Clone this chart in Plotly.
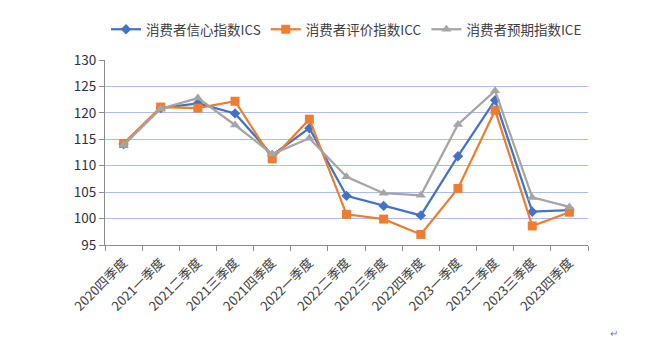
import plotly.graph_objects as go

categories = ["2020四季度", "2021一季度", "2021二季度", "2021三季度", "2021四季度",
              "2022一季度", "2022二季度", "2022三季度", "2022四季度",
              "2023一季度", "2023二季度", "2023三季度", "2023四季度"]
ics = [114.1, 120.9, 121.8, 119.9, 112.0, 117.1, 104.3, 102.4, 100.6, 111.8, 122.4, 101.3, 101.6]
icc = [114.2, 121.1, 120.9, 122.2, 111.3, 118.8, 100.8, 99.9, 97.0, 105.7, 120.5, 98.6, 101.2]
ice = [113.9, 120.8, 122.8, 117.7, 112.2, 115.2, 107.9, 104.8, 104.4, 117.8, 124.2, 104.0, 102.2]
series_names = ["消费者信心指数ICS", "消费者评价指数ICC", "消费者预期指数ICE"]
y_ticks = [95, 100, 105, 110, 115, 120, 125, 130]

FONT = "Noto Sans CJK SC, Microsoft YaHei, sans-serif"

fig = go.Figure()
fig.add_trace(go.Scatter(x=categories, y=ics, name=series_names[0], mode="lines+markers",
                         line=dict(color="#4472C4", width=2.25),
                         marker=dict(symbol="diamond", size=8, color="#4472C4")))
fig.add_trace(go.Scatter(x=categories, y=icc, name=series_names[1], mode="lines+markers",
                         line=dict(color="#ED7D31", width=2.25),
                         marker=dict(symbol="square", size=9, color="#ED7D31")))
fig.add_trace(go.Scatter(x=categories, y=ice, name=series_names[2], mode="lines+markers",
                         line=dict(color="#A5A5A5", width=2.25),
                         marker=dict(symbol="triangle-up", size=9, color="#A5A5A5")))

fig.update_layout(
    width=667, height=348,
    margin=dict(l=105, r=79, t=60, b=103),
    paper_bgcolor="white", plot_bgcolor="white",
    font=dict(family=FONT, size=12, color="#404040"),
    showlegend=True,
    legend=dict(orientation="h", x=0.5, xanchor="center", y=1.165, yanchor="middle",
                font=dict(size=13.5, color="#404040"), itemwidth=30, tracegroupgap=0),
    xaxis=dict(type="category", tickangle=-45, showgrid=False, showline=True,
               linecolor="#8C8C8C", linewidth=1, ticks="outside", ticklen=5,
               tickcolor="#8C8C8C", tickson="boundaries", ticklabelstandoff=4,
               tickfont=dict(size=13, color="#404040"), range=[-0.5, 12.5]),
    yaxis=dict(range=[95, 130], tickvals=y_ticks, showgrid=True, gridcolor="#A9BDF0",
               gridwidth=1, showline=True, linecolor="#8C8C8C", linewidth=1,
               ticks="outside", ticklen=5, tickcolor="#8C8C8C",
               tickfont=dict(size=13.5, color="#303040"), zeroline=False),
)
fig.add_annotation(text="↵", xref="paper", yref="paper", showarrow=False,
                   x=(620 - 105) / (667 - 105 - 79), y=(245 - 342) / (245 - 60),
                   font=dict(size=10, color="#808080"))

fig.write_html("out.html")
